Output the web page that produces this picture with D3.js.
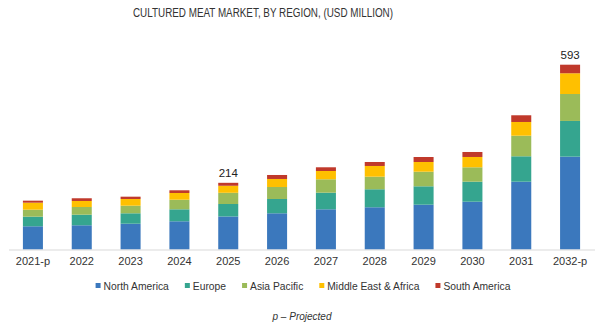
<!DOCTYPE html>
<html>
<head>
<meta charset="utf-8">
<script src="https://cdn.jsdelivr.net/npm/d3@7"></script>
<style>
  html, body { margin: 0; padding: 0; background: #fff; }
  svg { display: block; }
  text { font-family: "Liberation Sans", Arial, sans-serif; }
</style>
</head>
<body>
<svg id="chart" width="600" height="328"></svg>
<script>
// Cultured meat market by region, USD million
const years = ["2021-p", "2022", "2023", "2024", "2025", "2026", "2027", "2028", "2029", "2030", "2031", "2032-p"];
const regions = ["North America", "Europe", "Asia Pacific", "Middle East & Africa", "South America"];
const northAmerica = [74.5, 77.7, 82.8, 90.5, 106, 116.2, 129, 135.5, 143.8, 153.4, 217.6, 298];
const europe       = [30.8, 34, 33.4, 38.5, 40, 45.9, 53.3, 57.8, 59, 64.2, 81.5, 114.5];
const asiaPacific  = [22.5, 24.7, 24.4, 30.8, 36, 38.5, 43, 40.4, 46.9, 46.2, 66.1, 86.5];
const middleEastAfrica = [22.5, 19.3, 21.5, 21.5, 22.5, 25.7, 26.6, 34.3, 31.1, 33.1, 44, 66.5];
const southAmerica = [6.4, 8.7, 7.4, 8.7, 9.5, 12.8, 11.9, 12.8, 16, 16, 21.5, 27.5];
const totalLabels = [{ year: "2025", value: 214 }, { year: "2032-p", value: 593 }];
const colors = ["#3b78bd", "#35a58f", "#9bbb59", "#ffc000", "#c0392b"];

const seriesValues = [northAmerica, europe, asiaPacific, middleEastAfrica, southAmerica];
const rows = years.map((y, i) => {
  const r = { year: y };
  regions.forEach((g, j) => { r[g] = seriesValues[j][i]; });
  return r;
});

const svg = d3.select("#chart");

const x = d3.scaleBand().domain(years).range([8.5, 594.5])
  .paddingInner(0.59).paddingOuter(0.295);
const y = d3.scaleLinear().domain([0, 593]).range([249.5, 64.7]);

// title
svg.append("text")
  .attr("x", 133).attr("y", 16.5)
  .attr("textLength", 260).attr("lengthAdjust", "spacingAndGlyphs")
  .attr("font-size", 12).attr("fill", "#333")
  .text("CULTURED MEAT MARKET, BY REGION, (USD MILLION)");

// stacked bars
const stacked = d3.stack().keys(regions)(rows);
svg.append("g").selectAll("g")
  .data(stacked)
  .join("g")
  .attr("fill", (d, i) => colors[i])
  .selectAll("rect")
  .data(d => d)
  .join("rect")
  .attr("x", d => x(d.data.year))
  .attr("width", x.bandwidth())
  .attr("y", d => y(d[1]))
  .attr("height", d => y(d[0]) - y(d[1]));

// baseline axis with year labels
const xAxis = d3.axisBottom(x).tickSize(0).tickPadding(8);
const ax = svg.append("g").attr("transform", `translate(0,${y(0)})`).call(xAxis);
ax.select(".domain").attr("stroke", "#d9d9d9").attr("stroke-width", 1.2);
ax.selectAll(".tick text")
  .attr("font-family", "'Liberation Sans', Arial, sans-serif")
  .attr("font-size", 11).attr("fill", "#333");

// total labels
svg.append("g").selectAll("text")
  .data(totalLabels)
  .join("text")
  .attr("x", d => x(d.year) + x.bandwidth() / 2)
  .attr("y", d => y(d.value) - 6)
  .attr("text-anchor", "middle")
  .attr("font-size", 11.5).attr("fill", "#222")
  .text(d => d.value);

// legend
const legend = svg.append("g");
let lx = 0;
regions.forEach((g, i) => {
  const item = legend.append("g").attr("transform", `translate(${lx},0)`);
  item.append("rect").attr("x", 0).attr("y", -3).attr("width", 5).attr("height", 5).attr("fill", colors[i]);
  const t = item.append("text").attr("x", 8).attr("y", 3.5)
    .attr("font-size", 10.3).attr("fill", "#333").text(g);
  lx += 8 + t.node().getComputedTextLength() + 16;
});
const legendWidth = lx - 16;
legend.attr("transform", `translate(${303 - legendWidth / 2},286)`);

// footnote
svg.append("text")
  .attr("x", 302).attr("y", 320)
  .attr("text-anchor", "middle")
  .attr("font-size", 10).attr("font-style", "italic").attr("fill", "#333")
  .text("p \u2013 Projected");
</script>
</body>
</html>
